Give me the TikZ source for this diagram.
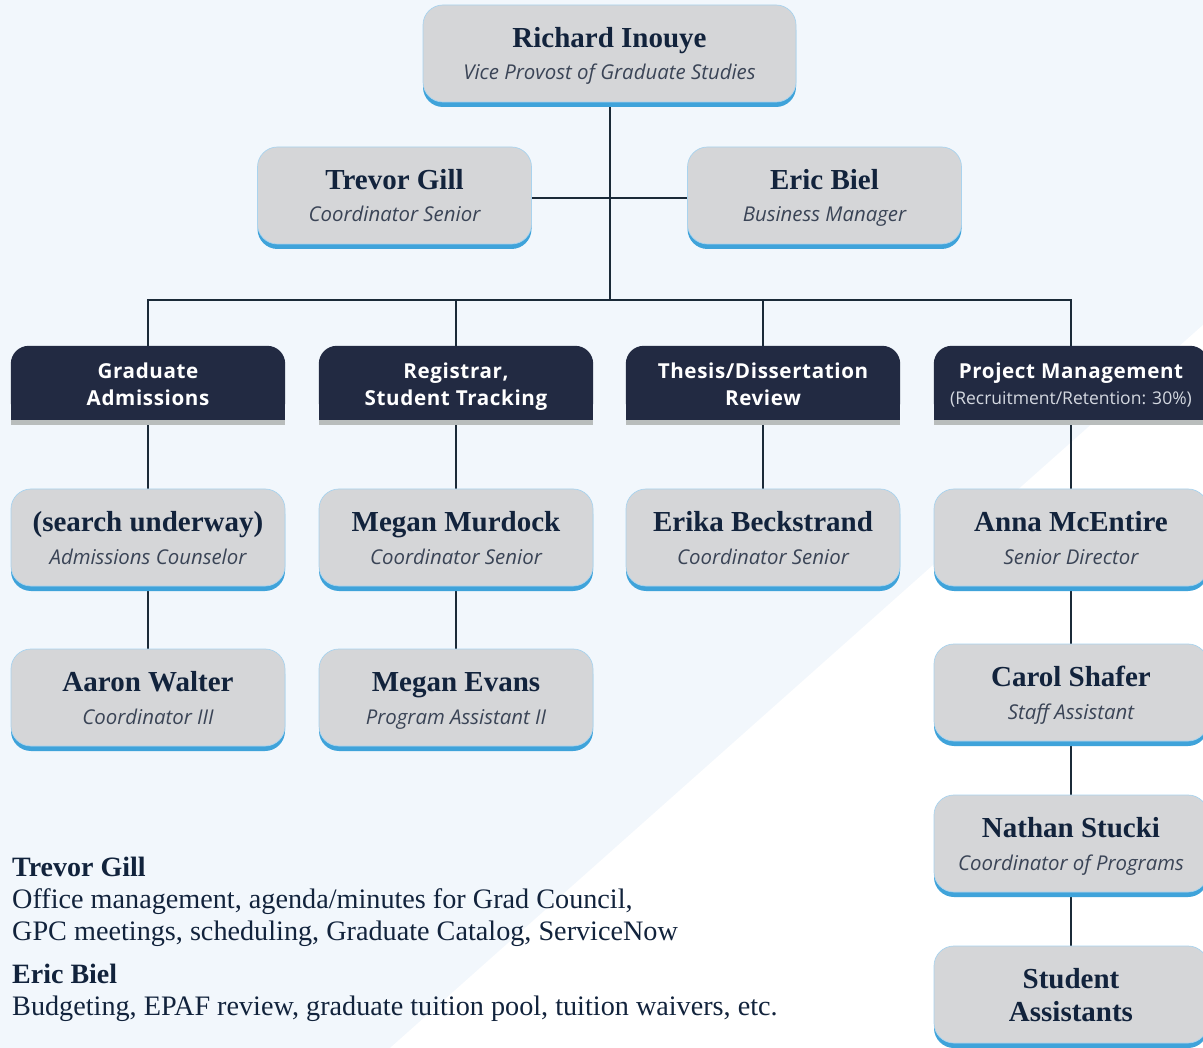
\documentclass[tikz,border=0pt]{standalone}
\usepackage{fontspec}
\setmainfont{Liberation Serif}
\newfontfamily\opensf{Open Sans}
\newfontfamily\opensp[LetterSpace=3]{Open Sans}
\usetikzlibrary{shadows,backgrounds}
\definecolor{bgblue}{HTML}{F2F7FC}
\definecolor{boxgray}{HTML}{D5D6D8}
\definecolor{boxblue}{HTML}{3FA3DA}
\definecolor{edgeblue}{HTML}{A9D3EE}
\definecolor{navy}{HTML}{222A42}
\definecolor{strip}{HTML}{B9BDBC}
\definecolor{ink}{HTML}{12233C}
\definecolor{subink}{HTML}{3A4456}
\definecolor{linec}{HTML}{1B2A38}
\definecolor{deptsub}{HTML}{D4D8E0}

\newcommand\pcard[6]{% name, x, y, width, title, subtitle
  \node[person, minimum width=#4] (#1) at (#2,#3) {};
  \node[nametxt, anchor=base] (#1-n) at ([yshift=6pt]#1.center) {#5};
  \node[subtxt, anchor=base] (#1-s) at ([yshift=-26.5pt]#1.center) {#6};
}
\newcommand\deptbox[5]{% name, x, y, line1, line2
  \node[dept] (#1) at (#2,#3) {};
  \fill[navy, rounded corners=18pt] (#1.north west) rectangle ([yshift=5pt]#1.south east);
  \fill[navy] ([yshift=30pt]#1.south west) rectangle ([yshift=5pt]#1.south east);
  \fill[strip] ([yshift=5pt]#1.south west) rectangle (#1.south east);
  \node[depttxt, anchor=base] (#1-a) at ([yshift=7pt]#1.center) {#4};
  \node[depttxt, anchor=base] (#1-b) at ([yshift=-20pt]#1.center) {#5};
}

\begin{document}
\begin{tikzpicture}[x=1pt,y=-1pt,
  person/.style={rectangle, rounded corners=20pt, fill=boxgray, draw=edgeblue,
    line width=0.7pt, minimum height=97pt, inner sep=0pt,
    drop shadow={shadow xshift=0pt, shadow yshift=-5pt, fill=boxblue, opacity=1}},
  dept/.style={rectangle, minimum width=274pt, minimum height=79pt, inner sep=0pt},
  nametxt/.style={font=\fontsize{29}{32}\selectfont\bfseries, text=ink, inner sep=0pt},
  subtxt/.style={font=\opensf\itshape\fontsize{20.4}{22}\selectfont, text=subink, inner sep=0pt},
  depttxt/.style={font=\opensp\bfseries\fontsize{20.6}{22}\selectfont, text=white, inner sep=0pt},
  deptsubtxt/.style={font=\opensf\fontsize{17.5}{20}\selectfont, text=deptsub},
  conn/.style={draw=linec, line width=2pt},
  notehead/.style={font=\fontsize{28}{32}\selectfont\bfseries, text=ink, inner sep=0pt, anchor=base west},
  notetxt/.style={font=\fontsize{28.2}{32}\selectfont, text=ink, inner sep=0pt, anchor=base west}
]
\useasboundingbox (0,0) rectangle (1203,1048);

% people
\pcard{rich}{609.5}{53.5}{373pt}{Richard Inouye}{Vice Provost of Graduate Studies}
\pcard{trev}{394.5}{195.5}{274pt}{Trevor Gill}{Coordinator Senior}
\pcard{eric}{824.5}{195.5}{274pt}{Eric Biel}{Business Manager}

% departments
\deptbox{ga}{148}{385.5}{Graduate}{Admissions}
\deptbox{rt}{456}{385.5}{Registrar,}{Student Tracking}
\deptbox{td}{763}{385.5}{Thesis/Dissertation}{Review}
\node[dept] (pm) at (1071,385.5) {};
\fill[navy, rounded corners=18pt] (pm.north west) rectangle ([yshift=5pt]pm.south east);
\fill[navy] ([yshift=30pt]pm.south west) rectangle ([yshift=5pt]pm.south east);
\fill[strip] ([yshift=5pt]pm.south west) rectangle (pm.south east);
\node[depttxt, anchor=base] (pm-a) at ([yshift=7pt]pm.center) {Project Management};
\node[deptsubtxt, inner sep=0pt, anchor=base] (pm-b) at ([yshift=-19.5pt]pm.center) {(Recruitment/Retention: 30\%)};

% level 2
\pcard{srch}{148}{537.5}{274pt}{(search underway)}{Admissions Counselor}
\pcard{mm}{456}{537.5}{274pt}{Megan Murdock}{Coordinator Senior}
\pcard{eb}{763}{537.5}{274pt}{Erika Beckstrand}{Coordinator Senior}
\pcard{am}{1071}{537.5}{274pt}{Anna McEntire}{Senior Director}

% level 3
\pcard{aw}{148}{697.5}{274pt}{Aaron Walter}{Coordinator III}
\pcard{me}{456}{697.5}{274pt}{Megan Evans}{Program Assistant II}
\pcard{cs}{1071}{692.5}{274pt}{Carol Shafer}{Staff Assistant}
\pcard{ns}{1071}{843.5}{274pt}{Nathan Stucki}{Coordinator of Programs}
\node[person, minimum width=274pt] (sa) at (1071,994.5) {};
\node[nametxt, anchor=base] (sa-a) at ([yshift=6pt]sa.center) {Student};
\node[nametxt, anchor=base] (sa-b) at ([yshift=-27pt]sa.center) {Assistants};

% notes
\node[notehead] (n1) at (12,876) {Trevor Gill};
\node[notetxt] (n2) at (12,908) {Office management, agenda/minutes for Grad Council,};
\node[notetxt] (n3) at (12,940) {GPC meetings, scheduling, Graduate Catalog, ServiceNow};
\node[notehead] (n4) at (12,983) {Eric Biel};
\node[notetxt] (n5) at (12,1015) {Budgeting, EPAF review, graduate tuition pool, tuition waivers, etc.};

\begin{pgfonlayer}{background}
  \fill[bgblue] (0,0) rectangle (1203,1048);
  \fill[white] (1203,325) -- (1203,1048) -- (390,1048) -- cycle;
  \coordinate (bus) at (609.5,300);
  \draw[conn] (rich.south) -- (bus);
  \draw[conn] ([yshift=-2.5pt]trev.east) -- ([yshift=-2.5pt]eric.west);
  \draw[conn] (ga.north) |- (bus) -| (pm.north);
  \draw[conn] (rt.north) -- (rt.north |- bus);
  \draw[conn] (td.north) -- (td.north |- bus);
  \draw[conn] (ga.south) -- (srch.north);
  \draw[conn] (rt.south) -- (mm.north);
  \draw[conn] (td.south) -- (eb.north);
  \draw[conn] (pm.south) -- (am.north);
  \draw[conn] (srch.south) -- (aw.north);
  \draw[conn] (mm.south) -- (me.north);
  \draw[conn] (am.south) -- (cs.north);
  \draw[conn] (cs.south) -- (ns.north);
  \draw[conn] (ns.south) -- (sa.north);
\end{pgfonlayer}
\end{tikzpicture}
\end{document}
